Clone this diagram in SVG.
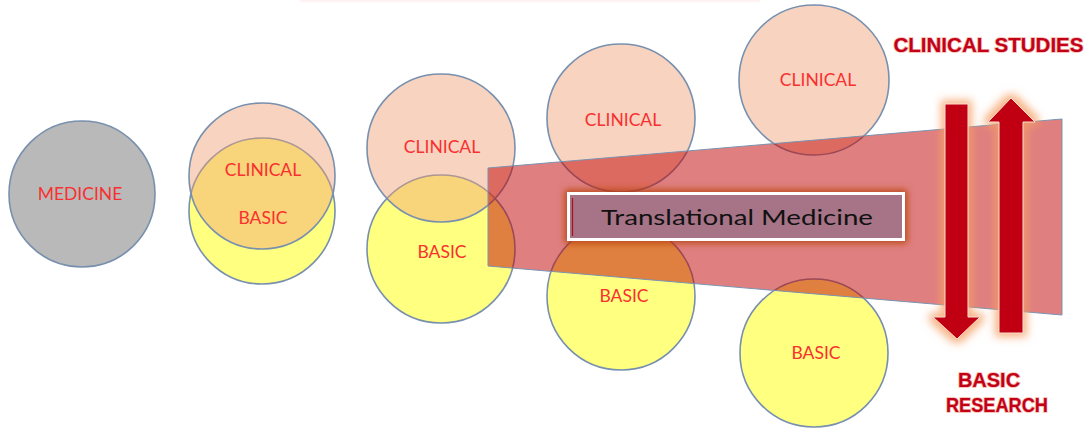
<svg xmlns="http://www.w3.org/2000/svg" width="1088" height="428" viewBox="0 0 1088 428">
  <style>
    .ring { stroke: #7890ae; stroke-width: 1.6; }
    .med { fill: #b9b9b9; }
    .clin { fill: rgb(240,160,115); fill-opacity: 0.45; }
    .basic { fill: #ffff80; }
    .lbl { font-family: Lato, "Open Sans", sans-serif; font-size: 17.5px; fill: #f83030; text-anchor: middle; }
    .side { font-family: "Liberation Sans", Arial, sans-serif; font-weight: bold; font-size: 20px; fill: #c2001a; text-anchor: middle; stroke: #f7b9a8; stroke-width: 1.6; paint-order: stroke; }
    .arrow { fill: #c00012; stroke: #fbe0d0; stroke-width: 1; }
  </style>
  <defs>
    <filter id="glow" x="-50%" y="-20%" width="200%" height="140%">
      <feMorphology in="SourceAlpha" operator="dilate" radius="4" result="d"/>
      <feGaussianBlur in="d" stdDeviation="4.5" result="b"/>
      <feFlood flood-color="#f5a066" flood-opacity="0.8"/>
      <feComposite in2="b" operator="in"/>
    </filter>
    <filter id="boxglow" x="-10%" y="-60%" width="120%" height="220%">
      <feMorphology in="SourceAlpha" operator="dilate" radius="3" result="d"/>
      <feGaussianBlur in="d" stdDeviation="3.5" result="b"/>
      <feFlood flood-color="#b8440e" flood-opacity="1"/>
      <feComposite in2="b" operator="in"/>
    </filter>
    <filter id="soft"><feGaussianBlur stdDeviation="1.2"/></filter>
  </defs>

  <!-- faint strip along the top edge -->
  <rect x="300" y="-2" width="460" height="4" fill="#f4b8b0" opacity="0.2" filter="url(#soft)"/>

  <!-- single circle: medicine -->
  <g id="medicine">
    <circle class="ring med" cx="82" cy="194" r="73"/>
    <text class="lbl" x="80" y="200">MEDICINE</text>
  </g>

  <!-- overlapping pair -->
  <g id="stage2">
    <circle class="ring basic" cx="262" cy="211" r="73"/>
    <circle class="ring clin" cx="262" cy="176" r="73"/>
    <text class="lbl" x="263" y="176">CLINICAL</text>
    <text class="lbl" x="263" y="224">BASIC</text>
  </g>

  <g id="stage3">
    <circle class="ring basic" cx="441" cy="249" r="74"/>
    <circle class="ring clin" cx="441" cy="148" r="74"/>
    <text class="lbl" x="442" y="153">CLINICAL</text>
    <text class="lbl" x="442" y="258">BASIC</text>
  </g>

  <g id="stage4">
    <circle class="ring basic" cx="621" cy="296" r="74"/>
    <circle class="ring clin" cx="621" cy="118" r="74"/>
    <text class="lbl" x="623" y="126">CLINICAL</text>
    <text class="lbl" x="624" y="302">BASIC</text>
  </g>

  <g id="stage5">
    <circle class="ring basic" cx="814" cy="353" r="74"/>
    <circle class="ring clin" cx="814" cy="80" r="75"/>
    <text class="lbl" x="818" y="86">CLINICAL</text>
    <text class="lbl" x="816" y="359">BASIC</text>
  </g>

  <!-- translational band -->
  <g id="band">
    <polygon points="488,168 1062,119 1062,315 488,266" fill="#c00000" fill-opacity="0.5" stroke="#7a93b0" stroke-width="1"/>
  </g>

  <g id="translational">
    <rect x="568" y="193" width="336" height="47" fill="#000" filter="url(#boxglow)"/>
    <rect x="568.5" y="193.5" width="335" height="46" fill="#a67486" stroke="#ffffff" stroke-width="3"/>
    <line x1="572.5" y1="198" x2="572.5" y2="236" stroke="#b0101a" stroke-width="1.2"/>
    <text x="737" y="225" font-family="Lato, 'Open Sans', sans-serif" font-size="22" fill="#111" text-anchor="middle" textLength="272" lengthAdjust="spacingAndGlyphs">Translational Medicine</text>
  </g>

  <!-- two-way arrows -->
  <g id="connectors">
    <g filter="url(#glow)">
      <polygon points="945,104 968,104 968,317 980,317 957,339 933,317 945,317"/>
      <polygon points="999,333 1023,333 1023,122 1035,122 1011,98 988,122 999,122"/>
    </g>
    <polygon class="arrow" points="945,104 968,104 968,317 980,317 957,339 933,317 945,317"/>
    <polygon class="arrow" points="999,333 1023,333 1023,122 1035,122 1011,98 988,122 999,122"/>
  </g>

  <g id="clinical-studies">
    <text class="side" x="988.5" y="52" textLength="190" lengthAdjust="spacingAndGlyphs">CLINICAL STUDIES</text>
  </g>
  <g id="basic-research">
    <text class="side" x="989" y="387">BASIC</text>
    <text class="side" x="997" y="412" textLength="102" lengthAdjust="spacingAndGlyphs">RESEARCH</text>
  </g>
</svg>
